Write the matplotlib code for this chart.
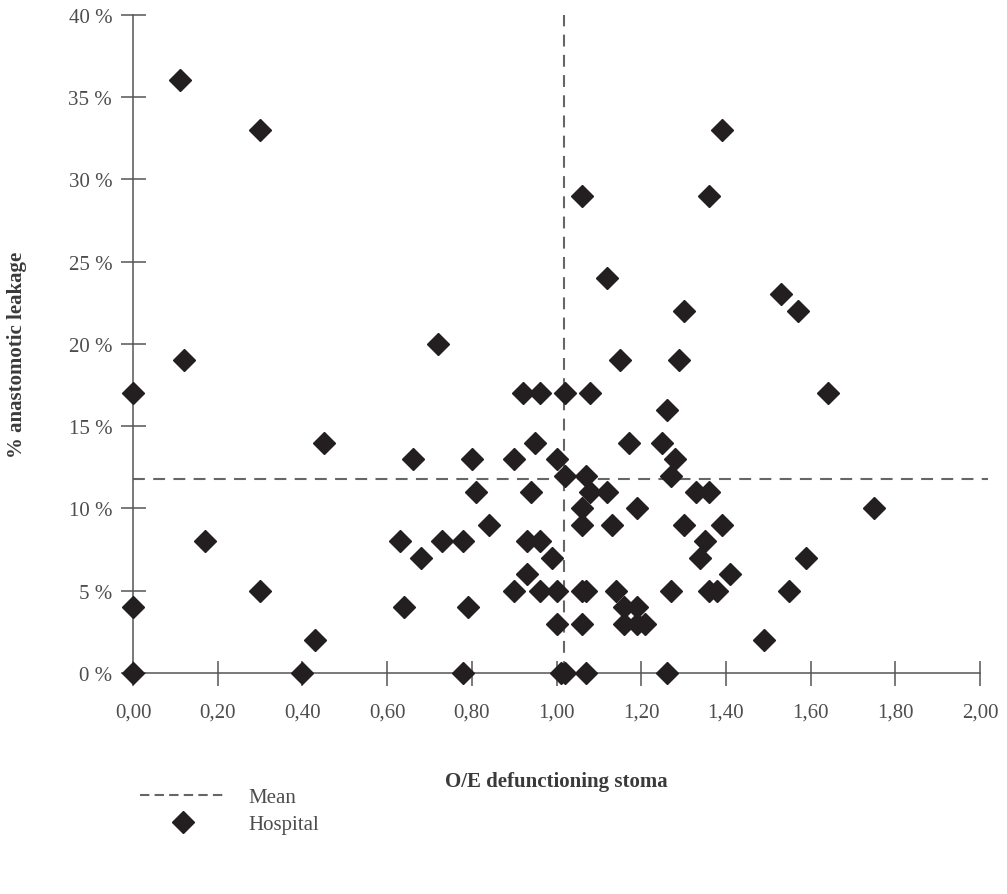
import matplotlib
matplotlib.use('Agg')
from matplotlib import pyplot as plt
from matplotlib.lines import Line2D

plt.rcParams['font.family'] = ['Liberation Serif', 'DejaVu Serif']

# O/E defunctioning stoma (x) vs % anastomotic leakage (y), one point per hospital
oe_stoma = [0.11, 0.30, 1.39, 1.06, 1.36, 1.12, 1.53, 1.30, 1.57, 0.72,
            0.12, 1.15, 1.29, 0.00, 0.92, 0.96, 1.02, 1.08, 1.64, 1.26,
            0.45, 0.95, 1.17, 1.25, 0.66, 0.80, 0.90, 1.00, 1.28, 1.02,
            1.07, 1.27, 0.81, 0.94, 1.08, 1.12, 1.33, 1.36, 1.06, 1.19,
            1.75, 0.84, 1.06, 1.13, 1.30, 1.39, 0.17, 0.63, 0.73, 0.78,
            0.93, 0.96, 1.35, 0.68, 0.99, 1.34, 1.59, 0.93, 1.41, 0.30,
            0.90, 0.96, 1.00, 1.06, 1.07, 1.14, 1.27, 1.36, 1.38, 1.55,
            0.00, 0.64, 0.79, 1.16, 1.19, 1.00, 1.06, 1.16, 1.19, 1.21,
            0.43, 1.49, 0.00, 0.40, 0.78, 1.01, 1.02, 1.07, 1.26]
leakage = [36, 33, 33, 29, 29, 24, 23, 22, 22, 20,
           19, 19, 19, 17, 17, 17, 17, 17, 17, 16,
           14, 14, 14, 14, 13, 13, 13, 13, 13, 12,
           12, 12, 11, 11, 11, 11, 11, 11, 10, 10,
           10, 9, 9, 9, 9, 9, 8, 8, 8, 8,
           8, 8, 8, 7, 7, 7, 7, 6, 6, 5,
           5, 5, 5, 5, 5, 5, 5, 5, 5, 5,
           4, 4, 4, 4, 4, 3, 3, 3, 3, 3,
           2, 2, 0, 0, 0, 0, 0, 0, 0]
mean_x = 1.017
mean_y = 11.8

x_ticks = [0.0, 0.2, 0.4, 0.6, 0.8, 1.0, 1.2, 1.4, 1.6, 1.8, 2.0]
x_ticklabels = ['0,00', '0,20', '0,40', '0,60', '0,80', '1,00', '1,20', '1,40', '1,60', '1,80', '2,00']
y_ticks = [0, 5, 10, 15, 20, 25, 30, 35, 40]
y_ticklabels = ['%d %%' % v for v in y_ticks]

axis_grey = '#555555'
text_grey = '#4d4d4d'
mark_col = '#231f20'
dash_col = '#666666'

fig = plt.figure(figsize=(10.07, 8.95), dpi=100)
ax = fig.add_axes([0.1321, 0.2469, 0.8495, 0.7356])

ax.axvline(mean_x, color=dash_col, lw=1.5, dashes=(5.7, 4.0), zorder=2)
ax.axhline(mean_y, color=dash_col, lw=1.5, dashes=(5.7, 4.0), zorder=2)
ax.plot(oe_stoma, leakage, linestyle='none', marker='D', ms=11,
        color=mark_col, zorder=3, clip_on=False)

ax.set_xlim(0, 2.02)
ax.set_ylim(0, 40)
ax.set_xticks(x_ticks)
ax.set_xticklabels(x_ticklabels)
ax.set_yticks(y_ticks)
ax.set_yticklabels(y_ticklabels)

for side in ['top', 'right']:
    ax.spines[side].set_visible(False)
ax.spines['left'].set_bounds(0, 40)
ax.spines['bottom'].set_bounds(0, 2)
for side in ['left', 'bottom']:
    ax.spines[side].set_color(axis_grey)
    ax.spines[side].set_linewidth(1.1)

ax.tick_params(direction='inout', length=18, width=1.1, color=axis_grey,
               labelsize=15, labelcolor=text_grey)
ax.tick_params(axis='x', pad=12)
ax.tick_params(axis='y', pad=6)

ax.set_xlabel('O/E defunctioning stoma', fontsize=15, fontweight='bold',
              color='#3a3a3a', va='center')
ax.xaxis.set_label_coords(0.495, -0.164)
ax.set_ylabel('% anastomotic leakage', fontsize=15, fontweight='bold',
              color='#3a3a3a', va='center')
ax.yaxis.set_label_coords(-0.1356, 0.485)

handles = [Line2D([], [], color=dash_col, lw=1.5, dashes=(4.5, 2.5)),
           Line2D([], [], linestyle='none', marker='D', ms=11, color=mark_col)]
fig.legend(handles, ['Mean', 'Hospital'], loc='upper left',
           bbox_to_anchor=(0.139, 0.119), frameon=False, fontsize=15,
           handlelength=4.1, handletextpad=1.1, labelspacing=0.35,
           borderpad=0, borderaxespad=0, labelcolor=text_grey)

fig.savefig('out.png', dpi=100)
